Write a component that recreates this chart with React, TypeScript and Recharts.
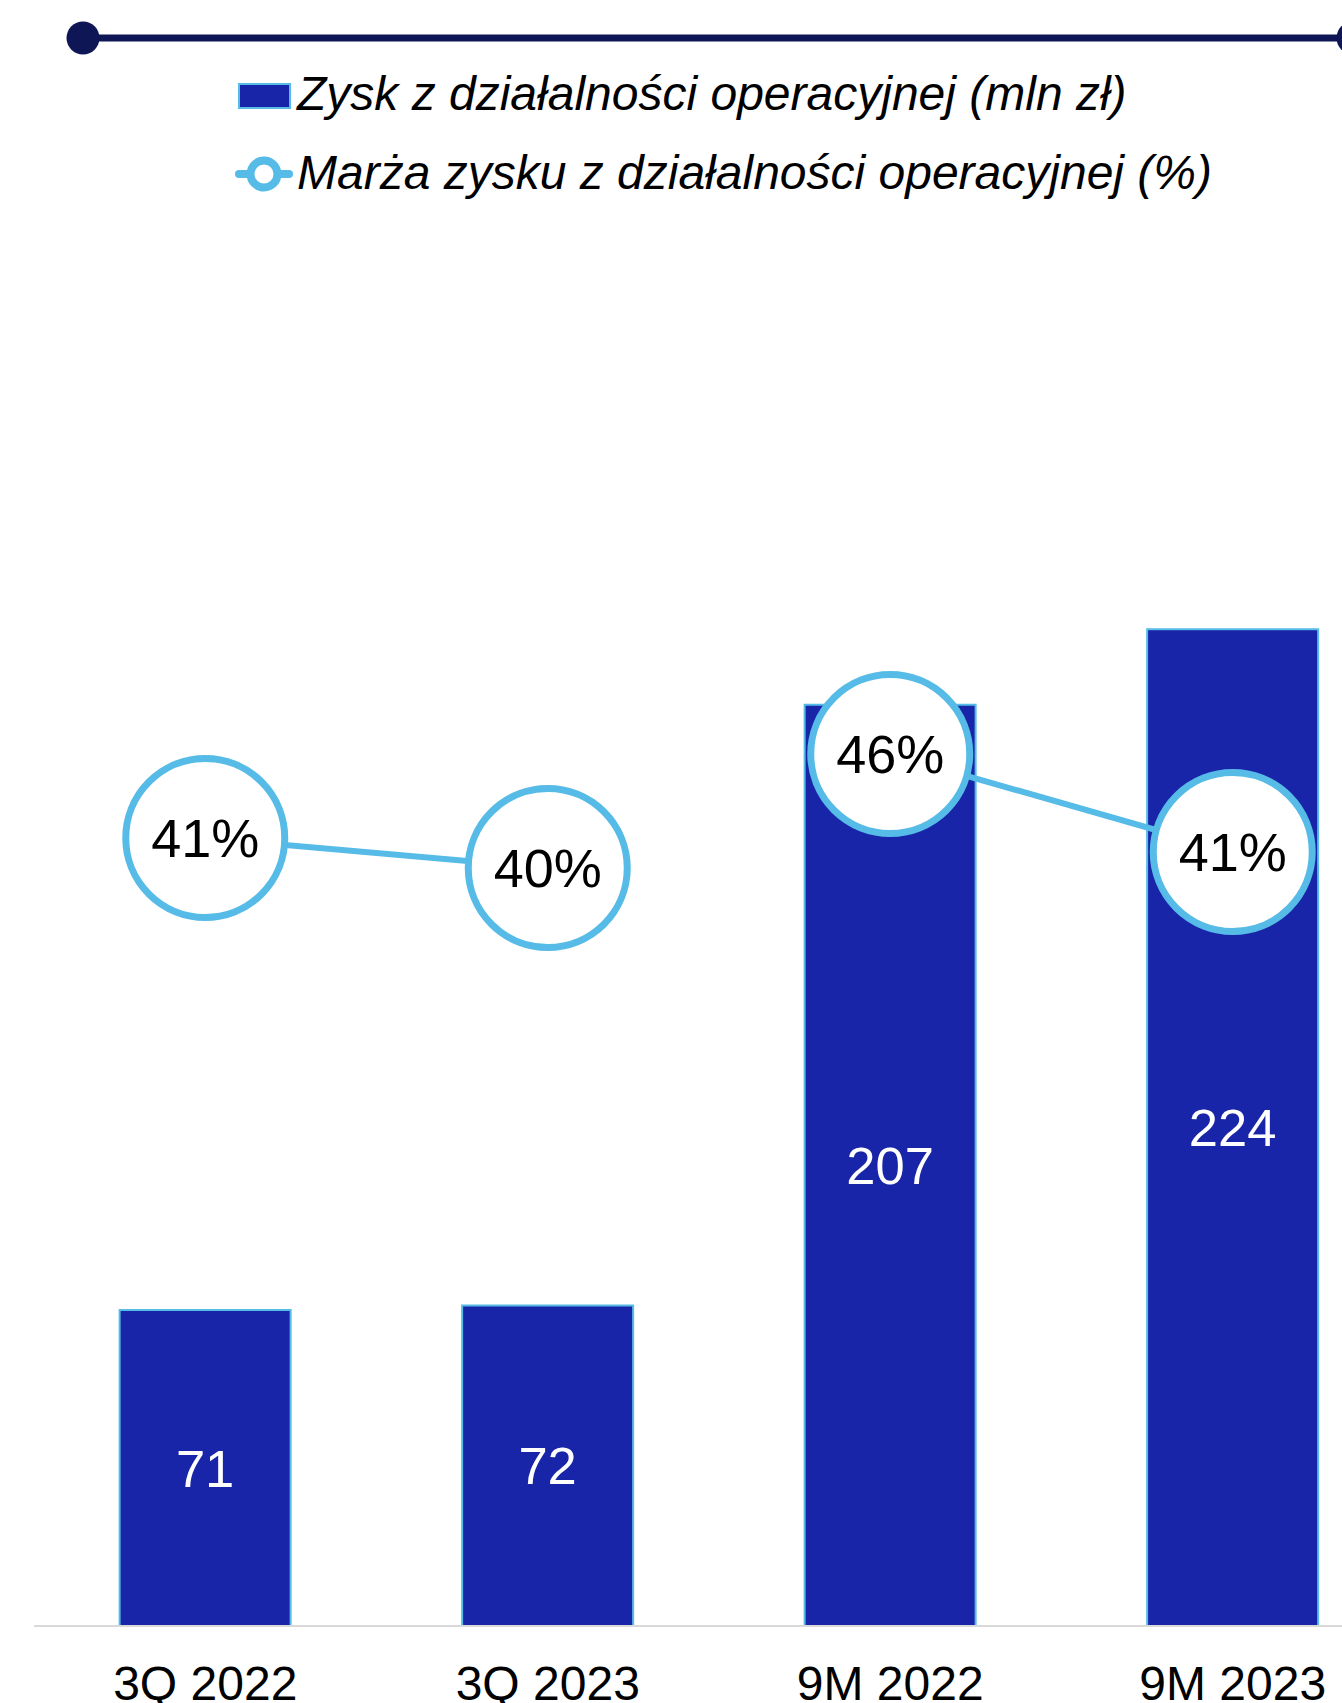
import React from 'react';
import { ComposedChart, Bar, Line, XAxis, YAxis, LabelList, Legend } from 'recharts';

const categories = ['3Q 2022', '3Q 2023', '9M 2022', '9M 2023'];
const operatingProfit = [71, 72, 207, 224];
const operatingMargin = [41.4, 39.9, 45.6, 40.7];
const marginSegment = [0, 0, 1, 1];
const seriesNames = [
  'Zysk z działalności operacyjnej (mln zł)',
  'Marża zysku z działalności operacyjnej (%)',
];

const BAR_FILL = '#1925A8';
const LIGHT_BLUE = '#56BBE6';
const NAVY = '#0E1655';
const FONT = '"Liberation Sans", Arial, sans-serif';

const data = categories.map((c, i) => ({
  category: c,
  profit: operatingProfit[i],
  marginA: marginSegment[i] === 0 ? operatingMargin[i] : null,
  marginB: marginSegment[i] === 1 ? operatingMargin[i] : null,
}));

const MarginDot = (props: any) => {
  const { cx, cy, value, index } = props;
  if (cx == null || cy == null || value == null || Number.isNaN(cy)) return <g key={`d-${index}`} />;
  return (
    <g key={`d-${index}`}>
      <circle cx={cx} cy={cy} r={79.5} fill="#fff" stroke={LIGHT_BLUE} strokeWidth={7} />
      <text
        x={cx}
        y={cy}
        dy={54 * 0.36}
        textAnchor="middle"
        fontSize={54}
        fill="#000"
        fontFamily={FONT}
      >{`${Math.round(value)}%`}</text>
    </g>
  );
};

const renderLegend = () => (
  <svg width={1342} height={220} style={{ display: 'block' }}>
    <line x1={83} y1={38} x2={1353} y2={38} stroke={NAVY} strokeWidth={7} />
    <circle cx={83} cy={38} r={16.5} fill={NAVY} />
    <circle cx={1353} cy={38} r={16.5} fill={NAVY} />
    <rect x={239} y={84} width={51} height={24} fill={BAR_FILL} stroke={LIGHT_BLUE} strokeWidth={2} />
    <text x={297} y={110} fontSize={48} fontStyle="italic" fontFamily={FONT} fill="#000">
      {seriesNames[0]}
    </text>
    <line x1={239} y1={174} x2={289} y2={174} stroke={LIGHT_BLUE} strokeWidth={8} strokeLinecap="round" />
    <circle cx={264} cy={174} r={13.5} fill="#fff" stroke={LIGHT_BLUE} strokeWidth={8} />
    <text x={297} y={188.5} fontSize={48} fontStyle="italic" fontFamily={FONT} fill="#000">
      {seriesNames[1]}
    </text>
  </svg>
);

export default function App() {
  return (
    <div
      style={{
        position: 'absolute',
        left: 0,
        top: 0,
        width: 1342,
        height: 1703,
        overflow: 'hidden',
        background: '#fff',
      }}
    >
      <ComposedChart
        width={1420}
        height={1760}
        data={data}
        margin={{ top: 291, right: 16, bottom: 34, left: 34 }}
        barCategoryGap="25%"
        style={{ fontFamily: FONT }}
      >
        <XAxis
          dataKey="category"
          xAxisId={0}
          height={100}
          tickLine={false}
          tickSize={0}
          tickMargin={40}
          axisLine={{ stroke: '#d9d9d9', strokeWidth: 2 }}
          tick={{ fontSize: 48, fill: '#000', fontFamily: FONT }}
          interval={0}
        />
        <YAxis yAxisId="left" hide domain={[0, 300]} />
        <YAxis yAxisId="right" orientation="right" hide domain={[2, 68.75]} />
        <Legend
          layout="vertical"
          align="center"
          verticalAlign="middle"
          content={renderLegend}
          wrapperStyle={{ position: 'absolute', top: 0, left: 0, width: 1342, height: 220 }}
        />
        <Bar
          yAxisId="left"
          dataKey="profit"
          name={seriesNames[0]}
          fill={BAR_FILL}
          stroke={LIGHT_BLUE}
          strokeWidth={2}
          isAnimationActive={false}
        >
          <LabelList
            dataKey="profit"
            position="center"
            fill="#fff"
            fontSize={52.5}
            fontFamily={FONT}
          />
        </Bar>
        <Line
          yAxisId="right"
          dataKey="marginA"
          name={seriesNames[1]}
          stroke={LIGHT_BLUE}
          strokeWidth={6}
          dot={MarginDot}
          activeDot={false}
          isAnimationActive={false}
        />
        <Line
          yAxisId="right"
          dataKey="marginB"
          name={seriesNames[1]}
          legendType="none"
          stroke={LIGHT_BLUE}
          strokeWidth={6}
          dot={MarginDot}
          activeDot={false}
          isAnimationActive={false}
        />
      </ComposedChart>
    </div>
  );
}
